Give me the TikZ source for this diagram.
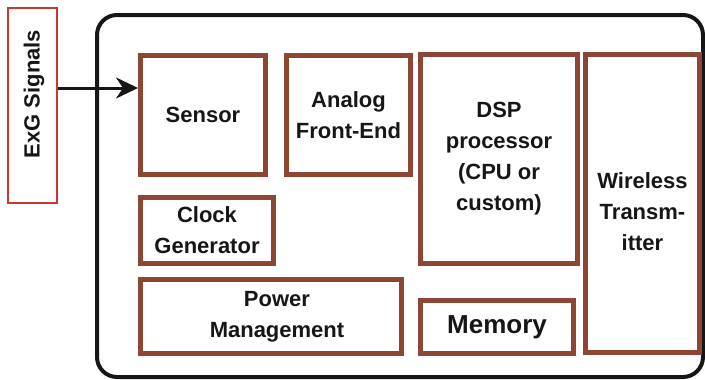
\documentclass[tikz,border=0pt]{standalone}
\usepackage{fontspec}
\setmainfont{Liberation Sans}
\usetikzlibrary{arrows.meta}
\definecolor{blockbrown}{RGB}{141,70,52}
\definecolor{signalred}{RGB}{200,56,44}
\definecolor{inkblack}{RGB}{22,22,22}

\begin{document}
\begin{tikzpicture}[x=1pt, y=-1pt,
		block/.style={draw=blockbrown, line width=5pt, inner sep=0pt, align=center,
			text=inkblack, font=\fontsize{22}{31}\selectfont\bfseries},
		tag/.style={align=center, text=inkblack, font=\fontsize{22}{31}\selectfont\bfseries}]
			%%%%% START %%%%%
			\useasboundingbox (0, 0) rectangle (705, 380);
			
			\draw[line width=4pt, color=inkblack, rounded corners=20pt] (97, 15) rectangle (703, 377);
			
			\node[block, minimum width=125pt, minimum height=119pt] (sensor) at (203, 115) {Sensor};
			\node[block, minimum width=124pt, minimum height=119pt] (afe) at (348.5, 115) {Analog\\Front-End};
			\node[block, minimum width=157pt, minimum height=209pt] (dsp) at (499, 159) {DSP\\processor\\(CPU or\\custom)};
			\node[block, minimum width=114pt, minimum height=298pt] (radio) at (642.5, 203.5) {};
			\node[tag] (radiotext) at (642.5, 212) {Wireless\\Transm-\\itter};
			
			\node[block, minimum width=133pt, minimum height=66pt] (clock) at (207, 230.5) {Clock\\Generator};
			\node[block, minimum width=261pt, minimum height=74pt] (power) at (271, 316.5) {};
			\node[tag] (powertext) at (277, 317) {Power\\Management};
			\node[block, minimum width=153pt, minimum height=53pt,
				font=\fontsize{26}{31}\selectfont\bfseries] (memory) at (497, 327) {Memory};
			
			\node[draw=signalred, line width=2pt, minimum width=49pt, minimum height=195pt] (exg) at (32.5, 105.5) {};
			\node[tag, rotate=90] (exgtext) at (34, 94) {ExG Signals};
			
			\coordinate (sig) at ([yshift=17.5pt]exg.east);
			\draw[line width=3pt, color=inkblack, -{Stealth[length=22pt, width=21pt, inset=7pt]}] (sig) -- (sig -| sensor.west);
			%%%%% END %%%%%
\end{tikzpicture}
\end{document}
